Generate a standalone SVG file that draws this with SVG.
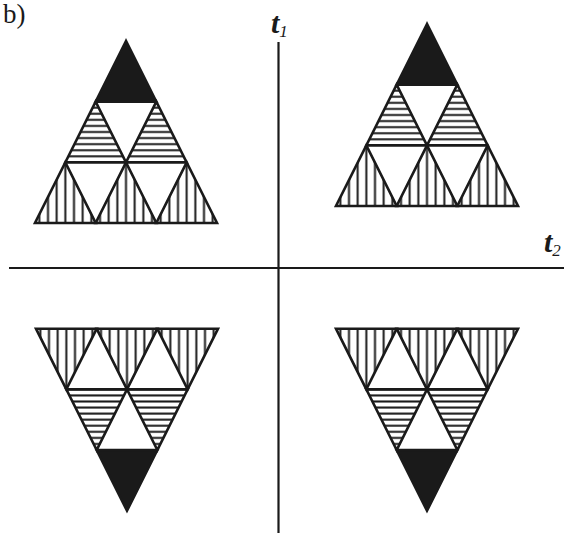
<svg xmlns="http://www.w3.org/2000/svg" xmlns:xlink="http://www.w3.org/1999/xlink" width="564" height="533" viewBox="0 0 564 533">
<style>
.edge{stroke:#1a1a1a;stroke-width:2.6;stroke-linejoin:miter}
.axis{stroke:#1a1a1a;stroke-width:2.2;fill:none}
.lbl{font-family:"Liberation Serif","Times New Roman",serif;fill:#1a1a1a}
.var{font-weight:bold;font-style:italic}
.sub{font-style:italic}
</style>
<defs>
<pattern id="hatchH" patternUnits="userSpaceOnUse" x="0" y="-3.0333" width="20" height="6.0667">
<line x1="0" y1="3.0333" x2="20" y2="3.0333" stroke="#1a1a1a" stroke-width="2"/>
</pattern>
<pattern id="hatchV" patternUnits="userSpaceOnUse" x="0" y="0" width="8.6667" height="20">
<line x1="4.3333" y1="0" x2="4.3333" y2="20" stroke="#1a1a1a" stroke-width="2"/>
</pattern>
<g id="triUp">
<polygon class="edge" fill="#1a1a1a" points="91,0 60.667,60.667 121.333,60.667"/>
<polygon class="edge" fill="url(#hatchH)" points="60.667,60.667 30.333,121.333 91,121.333"/>
<polygon class="edge" fill="url(#hatchH)" points="121.333,60.667 91,121.333 151.667,121.333"/>
<polygon class="edge" fill="url(#hatchV)" points="30.333,121.333 0,182 60.667,182"/>
<polygon class="edge" fill="url(#hatchV)" points="91,121.333 60.667,182 121.333,182"/>
<polygon class="edge" fill="url(#hatchV)" points="151.667,121.333 121.333,182 182,182"/>
</g>
</defs>
<rect width="564" height="533" fill="#ffffff"/>
<g id="connectors">
<line class="axis" x1="278.5" y1="42" x2="278.5" y2="533"/>
<line class="axis" x1="9" y1="268" x2="564" y2="268"/>
</g>
<g id="tri-top-left" transform="translate(35,41)"><use xlink:href="#triUp"/></g>
<g id="tri-top-right" transform="translate(336,24)"><use xlink:href="#triUp"/></g>
<g id="tri-bottom-left" transform="translate(36,510.7) scale(1,-1)"><use xlink:href="#triUp"/></g>
<g id="tri-bottom-right" transform="translate(336,510.7) scale(1,-1)"><use xlink:href="#triUp"/></g>
<g id="labels">
<text class="lbl" x="3" y="23" font-size="27">b)</text>
<text class="lbl" x="271" y="33" font-size="30"><tspan class="var">t</tspan><tspan class="sub" font-size="17" dy="4">1</tspan></text>
<text class="lbl" x="544" y="252" font-size="30"><tspan class="var">t</tspan><tspan class="sub" font-size="17" dy="4">2</tspan></text>
</g>
</svg>
